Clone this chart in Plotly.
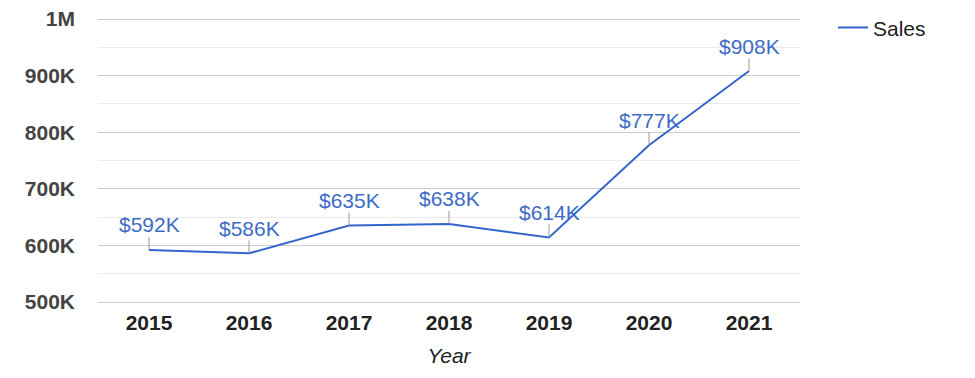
import plotly.graph_objects as go

years = [2015, 2016, 2017, 2018, 2019, 2020, 2021]
sales = [592000, 586000, 635000, 638000, 614000, 777000, 908000]
labels = ["$592K", "$586K", "$635K", "$638K", "$614K", "$777K", "$908K"]
y_tickvals = [500000, 600000, 700000, 800000, 900000, 1000000]
y_ticktext = ["500K", "600K", "700K", "800K", "900K", "1M"]

line_color = "#3366cc"
font_family = "Liberation Sans, Arial, sans-serif"

# a few extra pixels of range on each side so edge gridlines are drawn
pad_px = 3
pad = pad_px * 500000 / 283.0

fig = go.Figure()
fig.add_trace(go.Scatter(
    x=years, y=sales, mode="lines", name="Sales",
    line=dict(color=line_color, width=2),
    hoverinfo="skip",
))

for xv, yv, t in zip(years, sales, labels):
    fig.add_annotation(
        x=xv, y=yv, text=t, showarrow=True, arrowhead=0, arrowwidth=1,
        arrowcolor="#999999", ax=0, ay=-25, standoff=0,
        font=dict(family=font_family, size=21, color="#3d6cc6"),
        borderpad=0,
    )

fig.update_layout(
    width=975, height=378,
    margin=dict(l=98, r=175, t=19 - pad_px, b=76 - pad_px, autoexpand=False),
    paper_bgcolor="white", plot_bgcolor="white",
    font=dict(family=font_family, color="#444444"),
    showlegend=True,
    legend=dict(x=1.047, y=1.03, xanchor="left", yanchor="top",
                font=dict(size=21, color="#222222"), bgcolor="rgba(0,0,0,0)"),
    xaxis=dict(
        range=[2014.49, 2021.51], tickvals=years, ticktext=[str(y) for y in years],
        showgrid=False, zeroline=False, showline=False, ticks="",
        tickfont=dict(size=21, color="#222222", weight="bold"),
        ticklabelstandoff=3, automargin=False,
        title=dict(text="<i>Year</i>", font=dict(size=21, color="#222222"), standoff=15),
    ),
    yaxis=dict(
        range=[500000 - pad, 1000000 + pad], tickvals=y_tickvals, ticktext=y_ticktext,
        showgrid=True, gridcolor="#cccccc", gridwidth=1, zeroline=False,
        showline=False, ticks="", automargin=False,
        tickfont=dict(size=21, color="#444444", weight="bold"),
        ticklabelstandoff=22,
        minor=dict(dtick=50000, tick0=500000, showgrid=True, gridcolor="#ebebeb", gridwidth=1),
    ),
)

fig.write_html("out.html", config={"displayModeBar": False},
               post_script="document.body.style.margin='0px';")
